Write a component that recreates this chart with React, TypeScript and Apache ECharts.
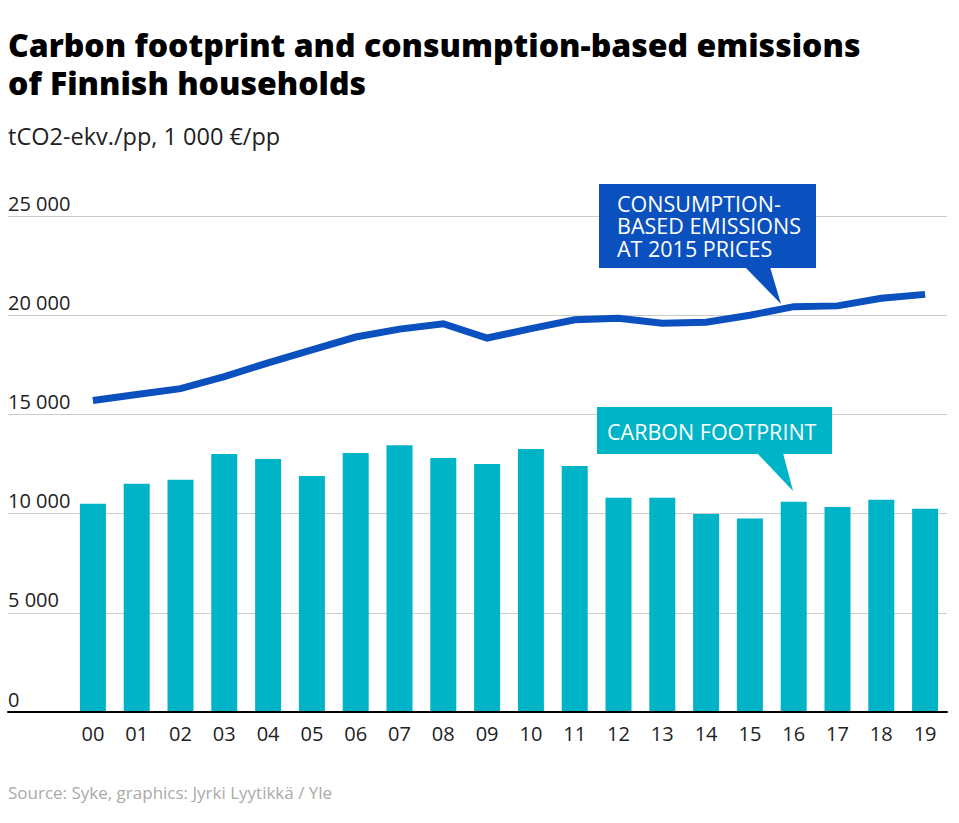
import React, { useEffect, useRef } from "react";
import * as echarts from "echarts";

const years = ["00","01","02","03","04","05","06","07","08","09","10","11","12","13","14","15","16","17","18","19"];
const carbonFootprint = [10500,11500,11700,13000,12750,11900,13050,13450,12800,12500,13250,12400,10800,10800,9980,9750,10600,10330,10700,10250];
const consumptionEmissions = [15700,16000,16300,16900,17600,18250,18900,19300,19570,18850,19320,19770,19850,19600,19650,20000,20430,20470,20850,21050];
const yTicks = { min: 0, max: 25000, interval: 5000 };
const titleLines = ["Carbon footprint and consumption-based emissions", "of Finnish households"];
const lineCallout = ["CONSUMPTION-", "BASED EMISSIONS", "AT 2015 PRICES"];

const FONT = "'Open Sans', 'Noto Sans', sans-serif";
const BLUE = "#0a50be";
const TEAL = "#00b4c8";

export default function App() {
  const ref = useRef<HTMLDivElement>(null);
  useEffect(() => {
    if (!ref.current) return;
    const chart = echarts.init(ref.current, undefined, { renderer: "svg" });
    const fmt = (v: number) => String(v).replace(/\B(?=(\d{3})+(?!\d))/g, " ");
    chart.setOption({
      animation: false,
      backgroundColor: "#fff",
      title: [
        ...titleLines.map((t, i) => ({
          text: t,
          left: 8, top: 26 + i * 38, padding: 0,
          textStyle: { fontFamily: FONT, fontSize: 32, fontWeight: 800, color: "#000", lineHeight: 36 },
        })),
        {
          text: "tCO2-ekv./pp, 1 000 €/pp",
          left: 8, top: 124, padding: 0,
          textStyle: { fontFamily: FONT, fontSize: 23.5, fontWeight: 400, color: "#222" },
        },
        {
          text: "Source: Syke, graphics: Jyrki Lyytikkä / Yle",
          left: 8, top: 784, padding: 0,
          textStyle: { fontFamily: FONT, fontSize: 17, fontWeight: 400, color: "#aaa" },
        },
      ],
      grid: [
        { left: 8, right: 12, top: 216, height: 496 },
        { left: 71, right: 12, top: 216, height: 496 },
      ],
      xAxis: [
        {
          type: "value", gridIndex: 0, min: 0, max: 1, z: 10,
          axisLine: { show: true, lineStyle: { color: "#000", width: 2 } },
          axisTick: { show: false }, axisLabel: { show: false }, splitLine: { show: false },
        },
        {
          type: "category", gridIndex: 1, data: years,
          axisLine: { show: false }, axisTick: { show: false },
          axisLabel: { fontFamily: FONT, fontSize: 20, color: "#222", margin: 11 },
        },
      ],
      yAxis: [
        {
          type: "value", gridIndex: 0, ...yTicks,
          axisLine: { show: false }, axisTick: { show: false },
          axisLabel: {
            inside: true, margin: 0, verticalAlign: "bottom", padding: [0, 0, 3, 0],
            fontFamily: FONT, fontSize: 20, color: "#222", formatter: fmt,
          },
          splitLine: { lineStyle: { color: "#cccccc", width: 1 } },
        },
        {
          type: "value", gridIndex: 1, ...yTicks, show: false, splitLine: { show: false },
        },
      ],
      series: [
        {
          type: "bar", name: "Carbon footprint", xAxisIndex: 1, yAxisIndex: 1,
          data: carbonFootprint, barWidth: 26, itemStyle: { color: TEAL },
        },
        {
          type: "line", name: "Consumption-based emissions", xAxisIndex: 1, yAxisIndex: 1,
          data: consumptionEmissions, symbol: "none",
          lineStyle: { color: BLUE, width: 7, cap: "butt", join: "miter" },
        },
      ],
      graphic: [
        { type: "rect", shape: { x: 599, y: 184, width: 217, height: 84 }, style: { fill: BLUE }, z: 20 },
        { type: "polygon", shape: { points: [[745, 267], [770, 267], [781, 304]] }, style: { fill: BLUE }, z: 20 },
        ...lineCallout.map((t, i) => ({
          type: "text", x: 617, y: 203 + i * 22.5, z: 21,
          style: { text: t, fill: "#fff", font: `400 21.5px ${FONT}`, lineHeight: 21, textVerticalAlign: "middle" },
        })),
        { type: "rect", shape: { x: 597, y: 407, width: 235, height: 47 }, style: { fill: TEAL }, z: 20 },
        { type: "polygon", shape: { points: [[757, 453], [783, 453], [793, 491]] }, style: { fill: TEAL }, z: 20 },
        {
          type: "text", x: 607, y: 431, z: 21,
          style: {
            text: "CARBON FOOTPRINT", fill: "#fff", font: `400 21.5px ${FONT}`,
            textVerticalAlign: "middle",
          },
        },
      ],
    });
    return () => chart.dispose();
  }, []);
  return (
    <div
      ref={ref}
      style={{ position: "absolute", left: 0, top: 0, width: 959, height: 823 }}
    />
  );
}
